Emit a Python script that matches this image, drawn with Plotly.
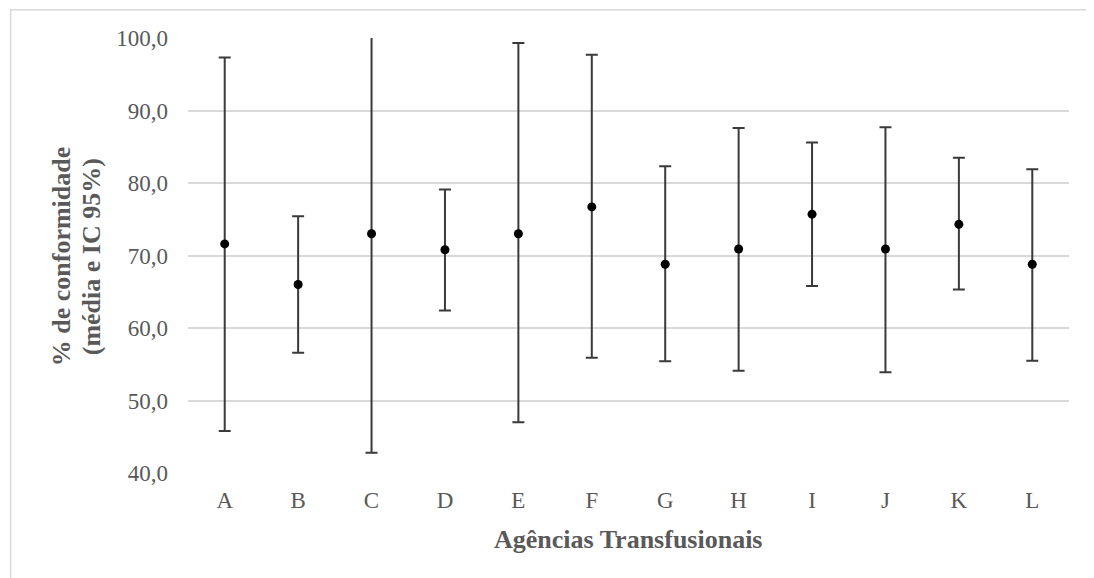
import plotly.graph_objects as go

categories = ["A", "B", "C", "D", "E", "F", "G", "H", "I", "J", "K", "L"]
means = [71.6, 66.0, 73.0, 70.8, 73.0, 76.7, 68.8, 70.9, 75.7, 70.9, 74.3, 68.8]
upper = [97.3, 75.4, 103.3, 79.1, 99.3, 97.7, 82.3, 87.6, 85.6, 87.7, 83.5, 81.9]
lower = [45.8, 56.6, 42.8, 62.4, 47.0, 55.9, 55.4, 54.1, 65.8, 53.9, 65.3, 55.5]

err_plus = [u - m for u, m in zip(upper, means)]
err_minus = [m - l for m, l in zip(means, lower)]

OFF = 8  # browser body margin
W, H = 1094 - OFF, 578 - OFF
L, T = 187.5 - OFF, 38.3 - OFF
R = W - (1069 - OFF)
B = H - (473.3 - OFF)
pw, ph = W - L - R, H - T - B


def px(x):
    return (x - OFF - L) / pw


def py(y):
    return (H - B - (y - OFF)) / ph


FONT = "Liberation Serif, Times New Roman, serif"
GREY = "#595959"

fig = go.Figure()
fig.add_trace(go.Scatter(
    x=categories, y=means, mode="markers",
    marker=dict(color="black", size=9),
    error_y=dict(type="data", symmetric=False, array=err_plus, arrayminus=err_minus,
                 color="#3a3a3a", thickness=2, width=6),
    cliponaxis=True, showlegend=False,
))

fig.update_layout(
    width=W, height=H,
    margin=dict(l=L, r=R, t=T, b=B, autoexpand=False),
    paper_bgcolor="white", plot_bgcolor="white",
    separators=",.",
    font=dict(family=FONT, color=GREY),
    xaxis=dict(showgrid=False, zeroline=False, showline=False, ticks="",
               tickfont=dict(size=23, color=GREY), ticklabelstandoff=11,
               range=[-0.5, 11.5]),
    yaxis=dict(range=[40, 100], dtick=10, tick0=40, tickformat=".1f",
               showgrid=True, gridcolor="#d9d9d9", gridwidth=2,
               zeroline=False, showline=False, ticks="",
               tickfont=dict(size=23, color=GREY), ticklabelstandoff=19),
    shapes=[dict(type="rect", xref="paper", yref="paper",
                 x0=px(10), x1=px(1110), y0=py(600), y1=py(10),
                 line=dict(color="#d9d9d9", width=1.5), fillcolor="rgba(0,0,0,0)",
                 layer="below")],
    annotations=[
        dict(text="<b>Agências Transfusionais</b>", xref="paper", yref="paper",
             x=px(628), y=py(540), xanchor="center", yanchor="middle",
             showarrow=False, font=dict(size=26, color=GREY, family=FONT)),
        dict(text="<b>% de conformidade</b>", xref="paper", yref="paper",
             x=px(61), y=py(257), xanchor="center", yanchor="middle", textangle=-90,
             showarrow=False, font=dict(size=26, color=GREY, family=FONT)),
        dict(text="<b>(média e IC 95%)</b>", xref="paper", yref="paper",
             x=px(91), y=py(257), xanchor="center", yanchor="middle", textangle=-90,
             showarrow=False, font=dict(size=26, color=GREY, family=FONT)),
    ],
)

fig.write_html("out.html")
